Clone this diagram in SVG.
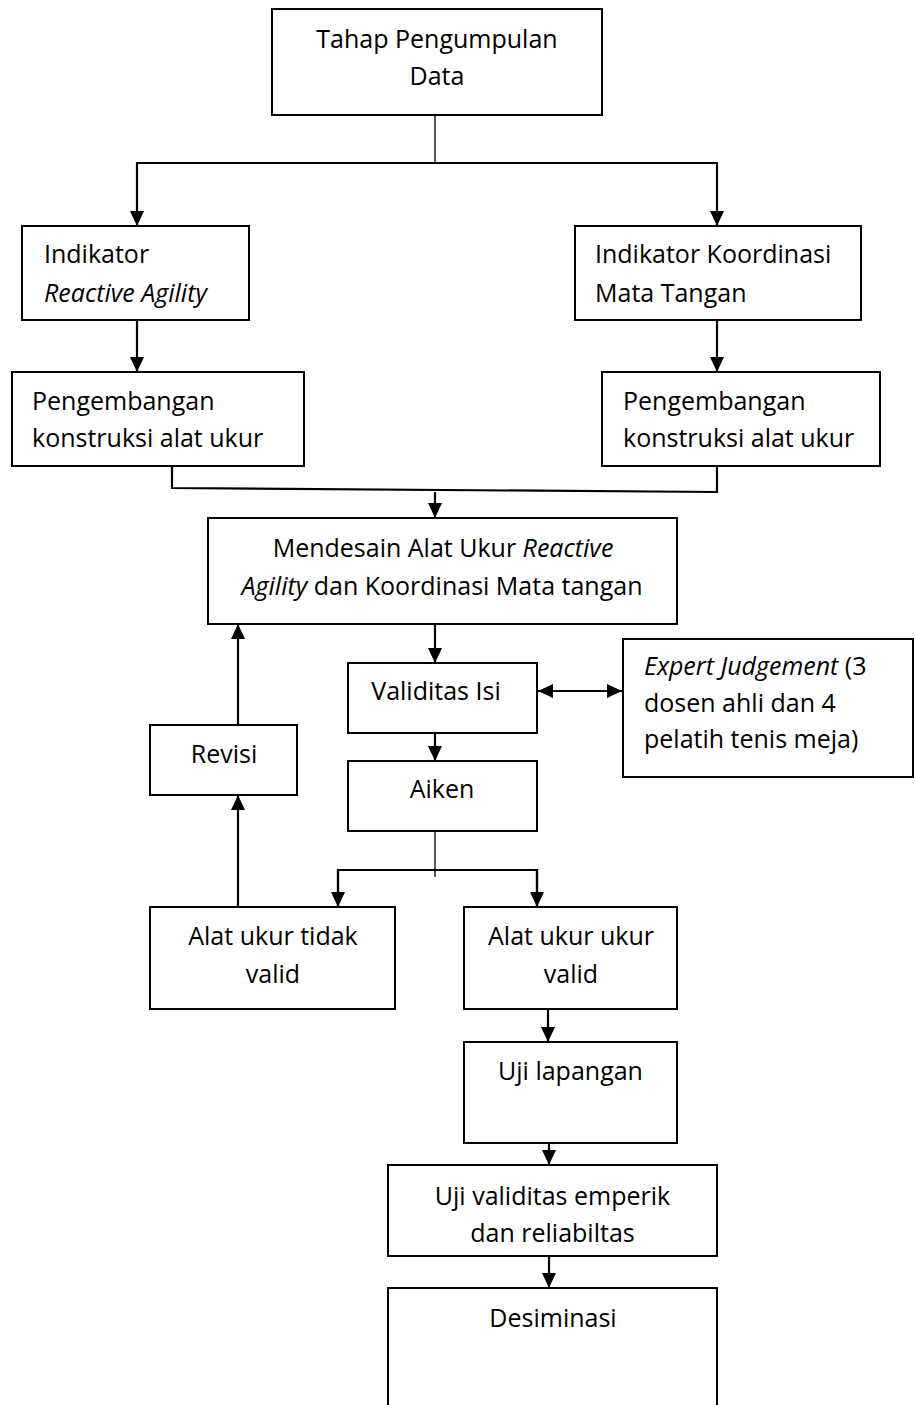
<svg xmlns="http://www.w3.org/2000/svg" width="915" height="1405" viewBox="0 0 915 1405">
<style>
.box{fill:#fff;stroke:#000;stroke-width:2}
.t{font-family:"Open Sans","Liberation Sans",sans-serif;font-size:25px;fill:#000}
.c{text-anchor:middle}
.i{font-style:italic}
.ln{fill:none;stroke:#000;stroke-width:2.2}
.thin{fill:none;stroke:#000;stroke-width:1.3}
</style>
<defs>
<marker id="ah" markerUnits="userSpaceOnUse" markerWidth="16" markerHeight="16" viewBox="0 0 16 16" refX="15" refY="8" orient="auto-start-reverse">
<path d="M0,1 L15,8 L0,15 Z" fill="#000"/>
</marker>
</defs>
<rect width="915" height="1405" fill="#fff"/>
<g id="connectors">
<line class="thin" x1="435" y1="115" x2="435" y2="163"/>
<line class="ln" x1="137" y1="163" x2="717" y2="163"/>
<line class="ln" x1="137" y1="162" x2="137" y2="226" marker-end="url(#ah)"/>
<line class="ln" x1="717" y1="162" x2="717" y2="226" marker-end="url(#ah)"/>
<line class="ln" x1="137" y1="320" x2="137" y2="372" marker-end="url(#ah)"/>
<line class="ln" x1="717" y1="320" x2="717" y2="372" marker-end="url(#ah)"/>
<path class="ln" d="M172,466 V488 L717,492 V466"/>
<line class="ln" x1="435" y1="492" x2="435" y2="518" marker-end="url(#ah)"/>
<line class="ln" x1="435" y1="624" x2="435" y2="663" marker-end="url(#ah)"/>
<line class="ln" x1="538" y1="691" x2="622" y2="691" marker-start="url(#ah)" marker-end="url(#ah)"/>
<line class="ln" x1="435" y1="725" x2="435" y2="761" marker-end="url(#ah)"/>
<line class="thin" x1="435" y1="823" x2="435" y2="877"/>
<path class="ln" d="M338,907 V870 H537 V907"/>
<line class="ln" x1="338" y1="870" x2="338" y2="907" marker-end="url(#ah)"/>
<line class="ln" x1="537" y1="870" x2="537" y2="907" marker-end="url(#ah)"/>
<line class="ln" x1="238" y1="922" x2="238" y2="795" marker-end="url(#ah)"/>
<line class="ln" x1="238" y1="740" x2="238" y2="624" marker-end="url(#ah)"/>
<line class="ln" x1="548" y1="994" x2="548" y2="1042" marker-end="url(#ah)"/>
<line class="ln" x1="549" y1="1128" x2="549" y2="1165" marker-end="url(#ah)"/>
<line class="ln" x1="549" y1="1256" x2="549" y2="1288" marker-end="url(#ah)"/>
</g>
<g id="n-tahap"><rect class="box" x="272" y="9" width="330" height="106"/>
<text class="t c" x="437" y="48">Tahap Pengumpulan</text><text class="t c" x="437" y="85">Data</text></g>
<g id="n-ind-ra"><rect class="box" x="22" y="226" width="227" height="94"/>
<text class="t" x="44" y="263">Indikator</text><text class="t i" x="44" y="302">Reactive Agility</text></g>
<g id="n-ind-kmt"><rect class="box" x="575" y="226" width="286" height="94"/>
<text class="t" x="595" y="263">Indikator Koordinasi</text><text class="t" x="595" y="302">Mata Tangan</text></g>
<g id="n-peng-l"><rect class="box" x="12" y="372" width="292" height="94"/>
<text class="t" x="32" y="410">Pengembangan</text><text class="t" x="32" y="447">konstruksi alat ukur</text></g>
<g id="n-peng-r"><rect class="box" x="602" y="372" width="278" height="94"/>
<text class="t" x="623" y="410">Pengembangan</text><text class="t" x="623" y="447">konstruksi alat ukur</text></g>
<g id="n-mendesain"><rect class="box" x="208" y="518" width="469" height="106"/>
<text class="t c" x="443" y="557">Mendesain Alat Ukur <tspan class="i">Reactive</tspan></text>
<text class="t c" x="442" y="595"><tspan class="i">Agility</tspan> dan Koordinasi Mata tangan</text></g>
<g id="n-validitas"><rect class="box" x="348" y="663" width="189" height="70"/>
<text class="t c" x="436" y="700">Validitas Isi</text></g>
<g id="n-expert"><rect class="box" x="623" y="639" width="290" height="138"/>
<text class="t" x="644" y="675"><tspan class="i">Expert Judgement</tspan> (3</text>
<text class="t" x="644" y="712">dosen ahli dan 4</text>
<text class="t" x="644" y="748">pelatih tenis meja)</text></g>
<g id="n-revisi"><rect class="box" x="150" y="725" width="147" height="70"/>
<text class="t c" x="224" y="763">Revisi</text></g>
<g id="n-aiken"><rect class="box" x="348" y="761" width="189" height="70"/>
<text class="t c" x="442" y="798">Aiken</text></g>
<g id="n-tidak-valid"><rect class="box" x="150" y="907" width="245" height="102"/>
<text class="t c" x="273" y="945">Alat ukur tidak</text><text class="t c" x="273" y="983">valid</text></g>
<g id="n-valid"><rect class="box" x="464" y="907" width="213" height="102"/>
<text class="t c" x="571" y="945">Alat ukur ukur</text><text class="t c" x="571" y="983">valid</text></g>
<g id="n-uji-lap"><rect class="box" x="464" y="1042" width="213" height="101"/>
<text class="t c" x="570.5" y="1080">Uji lapangan</text></g>
<g id="n-uji-val"><rect class="box" x="388" y="1165" width="329" height="91"/>
<text class="t c" x="552.5" y="1205">Uji validitas emperik</text><text class="t c" x="552.5" y="1242">dan reliabiltas</text></g>
<g id="n-desiminasi"><rect class="box" x="388" y="1288" width="329" height="130"/>
<text class="t c" x="553" y="1327">Desiminasi</text></g>
</svg>
